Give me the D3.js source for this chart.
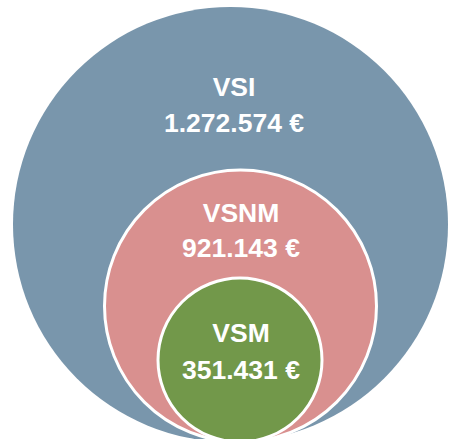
<!DOCTYPE html>
<html>
<head>
<meta charset="utf-8">
<script src="https://cdn.jsdelivr.net/npm/d3@7"></script>
<style>
  body { margin: 0; background: #fff; }
  .label { font-family: "Liberation Sans", Arial, sans-serif; font-weight: bold; fill: #fff; }
</style>
</head>
<body>
<div id="chart"></div>
<script>
// DATA
const labels = ["VSI", "VSNM", "VSM"];
const values = [1272574, 921143, 351431];

const width = 452;
const height = 439;

const svg = d3.select("#chart")
    .append("svg")
    .attr("width", width)
    .attr("height", height);

// radius per circle (not proportional to value in the original)
const rScale = d3.scaleOrdinal()
    .domain(labels)
    .range([217.5, 136, 82]);

const color = d3.scaleOrdinal()
    .domain(labels)
    .range(["#7996ac", "#d9908f", "#72984a"]);

// center x per circle
const xScale = d3.scaleOrdinal()
    .domain(labels)
    .range([230.5, 240.5, 240]);

const bottom = 442; // all circles sit on the same bottom point

const data = labels.map((l, i) => ({ label: l, value: values[i] }));

const fmt = d3.formatLocale({ decimal: ",", thousands: ".", grouping: [3], currency: ["", " €"] }).format("$,.0f");

svg.selectAll("circle")
    .data(data)
    .enter()
    .append("circle")
    .attr("cx", d => xScale(d.label))
    .attr("cy", d => bottom - rScale(d.label))
    .attr("r", d => rScale(d.label))
    .attr("fill", d => color(d.label))
    .attr("stroke", (d, i) => i === 0 ? "none" : "#fff")
    .attr("stroke-width", 3);

// label positions: [title baseline, value baseline]
const textY = d3.scaleOrdinal()
    .domain(labels)
    .range([[96, 132], [222, 257], [342, 379]]);
const textX = d3.scaleOrdinal()
    .domain(labels)
    .range([234, 241, 241]);

const g = svg.selectAll(".lbl")
    .data(data)
    .enter()
    .append("g")
    .attr("class", "lbl");

g.append("text")
    .attr("class", "label")
    .attr("text-anchor", "middle")
    .attr("x", d => textX(d.label))
    .attr("y", d => textY(d.label)[0])
    .attr("font-size", 26.5)
    .text(d => d.label);

g.append("text")
    .attr("class", "label")
    .attr("text-anchor", "middle")
    .attr("x", d => textX(d.label))
    .attr("y", d => textY(d.label)[1])
    .attr("font-size", 26.5)
    .text(d => fmt(d.value));
</script>
</body>
</html>
